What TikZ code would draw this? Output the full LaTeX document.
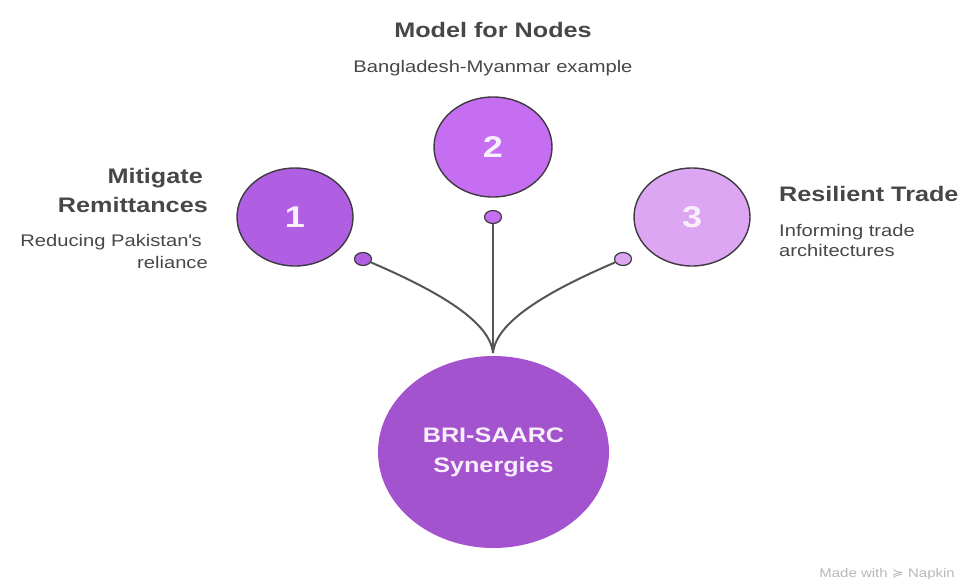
\documentclass[tikz,border=0pt]{standalone}
\usepackage{fontspec}
\setmainfont{Liberation Sans}[FakeStretch=1.2]
\newfontfamily\djv{DejaVu Sans}[FakeStretch=1.2]
\usetikzlibrary{shapes.geometric}
\definecolor{txtgray}{HTML}{474747}
\definecolor{pA}{HTML}{B15FE2}
\definecolor{pB}{HTML}{C66EF2}
\definecolor{pC}{HTML}{DDA6F3}
\definecolor{pBig}{HTML}{A453CE}
\definecolor{outl}{HTML}{3E3A40}
\definecolor{conn}{HTML}{555555}
\definecolor{numwhite}{HTML}{F8EEFC}
\tikzset{
  bubble/.style={ellipse, draw=outl, line width=1.4pt, inner sep=0pt, minimum width=116pt, minimum height=98pt, text=numwhite, font=\bfseries\fontsize{30}{32}\selectfont},
  dot/.style={ellipse, draw=outl, line width=1.2pt, inner sep=0pt, minimum width=17pt, minimum height=13pt},
  title/.style={inner sep=0pt, text=txtgray, font=\bfseries\fontsize{21}{24}\selectfont},
  sub/.style={inner sep=0pt, text=txtgray, font=\fontsize{16.8}{20}\selectfont},
  link/.style={draw=conn, line width=2pt},
}
\begin{document}
\begin{tikzpicture}[x=1pt,y=-1pt]
\useasboundingbox (0,0) rectangle (965,578);
% bubbles
\node[bubble, fill=pA] (c1) at (295,217) {1};
\node[bubble, fill=pB, minimum width=118pt, minimum height=100pt] (c2) at (493,147) {2};
\node[bubble, fill=pC] (c3) at (692,217) {3};
\node[ellipse, fill=pBig, inner sep=0pt, minimum width=231pt, minimum height=192pt] (big) at (493.5,452) {};
\node[inner sep=0pt, text=numwhite, font=\bfseries\fontsize{21}{30}\selectfont, align=center] (bigt) at (493.5,452) {BRI-SAARC\\Synergies};
% dots
\node[dot, fill=pA] (d1) at (363,259) {};
\node[dot, fill=pB] (d2) at (493,217) {};
\node[dot, fill=pC] (d3) at (623,259) {};
\coordinate (conv) at (493,353);
% connectors
\draw[link] (d1) .. controls (440,292) and (490,322) .. (conv);
\draw[link] (d2) -- (conv);
\draw[link] (d3) .. controls (546,292) and (496,322) .. (conv);
% labels
\node[title, anchor=base] (t2) at (493,37.5) {Model for Nodes};
\node[sub, anchor=base] (s2) at (493,72) {Bangladesh-Myanmar example};
\node[title, anchor=base east] (t1a) at (203,183) {Mitigate};
\node[title, anchor=base east] (t1b) at (208,212) {Remittances};
\node[sub, anchor=base east] (s1a) at (202,246.5) {Reducing Pakistan\textquotesingle s};
\node[sub, anchor=base east] (s1b) at (208,268) {reliance};
\node[title, anchor=base west] (t3) at (779,201.5) {Resilient Trade};
\node[sub, anchor=base west] (s3a) at (779,236.5) {Informing trade};
\node[sub, anchor=base west] (s3b) at (779,256.5) {architectures};
% footer
\node[inner sep=0pt, anchor=base east, text=black!28, font=\fontsize{12.5}{14}\selectfont] (foot) at (955,577) {Made with {\djv\fontsize{12}{14}\selectfont ≽} Napkin};
\end{tikzpicture}
\end{document}
